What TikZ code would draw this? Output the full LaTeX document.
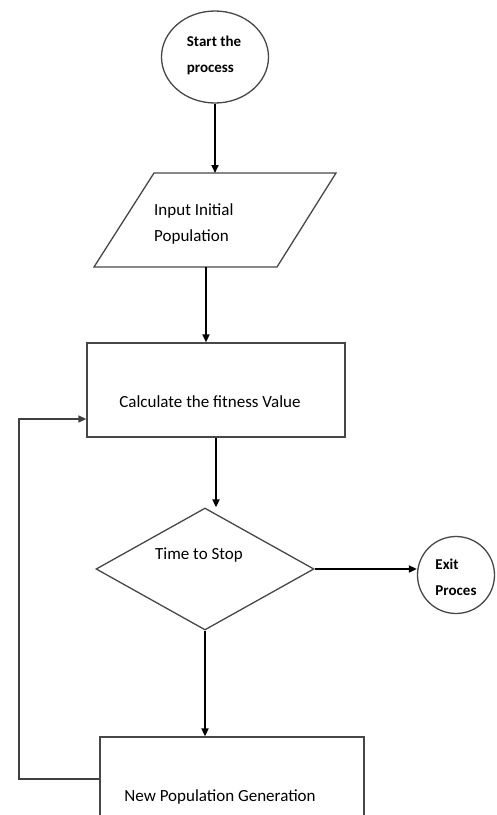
\documentclass[tikz,border=0pt]{standalone}
\usepackage{fontspec}
\setmainfont{Carlito}
\usetikzlibrary{shapes.geometric,arrows.meta}
\begin{document}
\begin{tikzpicture}[x=1pt,y=-1pt,
  shapeline/.style={draw=black!72, line width=1.3pt},
  flow/.style={draw=black, line width=1.8pt, -{Triangle[length=8pt,width=7pt]}},
  loopline/.style={draw=black!75, line width=1.4pt, -{Triangle[length=8pt,width=7pt]}},
  lbl/.style={font=\fontsize{17}{26}\selectfont, align=left, inner sep=0pt},
  blbl/.style={font=\bfseries\fontsize{15}{26}\selectfont, align=left, inner sep=0pt}]
\clip (0,0) rectangle (496,815);
\fill[white] (0,0) rectangle (496,815);
% start
\node[ellipse, shapeline, minimum width=107pt, minimum height=92pt, inner sep=0pt] (start) at (215,57) {};
\node[blbl] (starttxt) at (214,55) {Start the\\process};
% input parallelogram
\coordinate (pTL) at (154,173);
\coordinate (pTR) at (336,173);
\coordinate (pBR) at (277,267);
\coordinate (pBL) at (94,267);
\coordinate (pOut) at (206,267);
\draw[shapeline, line join=miter] (pTL) -- (pTR) -- (pBR) -- (pBL) -- cycle;
\node[lbl, anchor=west] (input) at (154,224) {Input Initial\\Population};
% calculate box
\node[rectangle, shapeline, minimum width=258pt, minimum height=94pt, inner sep=0pt] (calc) at (216,390) {};
\node[lbl] (calctxt) at (210,402) {Calculate the fitness Value};
% decision
\node[diamond, shapeline, minimum width=218pt, minimum height=122pt, inner sep=0pt] (dec) at (205,569) {};
\node[lbl] (dectxt) at (199,555) {Time to Stop};
% exit
\node[circle, shapeline, minimum size=77pt, inner sep=0pt] (exit) at (456,575) {};
\node[blbl] (exittxt) at (456,577) {Exit\\Proces};
% new population
\node[rectangle, shapeline, minimum width=264pt, minimum height=100pt, inner sep=0pt] (newpop) at (232,787) {};
\node[lbl] (newtxt) at (220,797) {New Population Generation};
% connectors
\draw[flow] (start.south) -- (start.south |- pTL);
\draw[flow] (pOut) -- (pOut |- calc.north);
\draw[flow] (calc.south) -- (calc.south |- dec.north);
\draw[flow] (dec.east) -- (dec.east -| exit.west);
\draw[flow] (dec.south) -- (dec.south |- newpop.north);
\coordinate (lc1) at (19,779);
\coordinate (lc2) at (19,419);
\draw[loopline] (lc1 -| newpop.west) -- (lc1) -- (lc2) -- (lc2 -| calc.west);
\end{tikzpicture}
\end{document}
